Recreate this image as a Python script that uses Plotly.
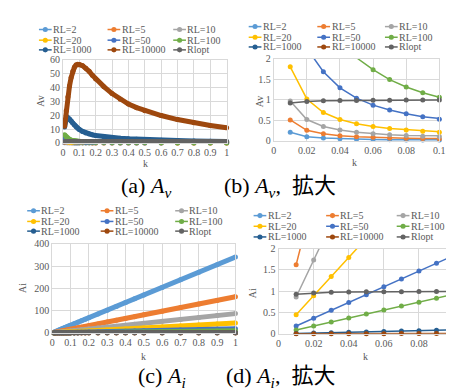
import plotly.graph_objects as go

W, H = 454, 391
SERIF = "'Liberation Serif', 'Times New Roman', serif"
CJK = "'Liberation Serif', 'Times New Roman', 'Noto Sans CJK JP', serif"
GREY_TXT = "#595959"

# ---------------- data ----------------
k = [0.01, 0.02, 0.03, 0.04, 0.05, 0.06, 0.07, 0.08, 0.09, 0.10,
     0.12, 0.14, 0.16, 0.18, 0.20, 0.25, 0.30, 0.35, 0.40, 0.45,
     0.50, 0.60, 0.70, 0.80, 0.90, 1.00]

names = ["RL=2", "RL=5", "RL=10", "RL=20", "RL=50", "RL=100",
         "RL=1000", "RL=10000", "Rlopt"]
colors = ["#5B9BD5", "#ED7D31", "#A5A5A5", "#FFC000", "#4472C4",
          "#70AD47", "#255E91", "#9E480E", "#636363"]

av_rl2 = [0.21, 0.105, 0.07, 0.053, 0.042, 0.035, 0.030, 0.026, 0.023, 0.021,
          0.0175, 0.015, 0.013, 0.0117, 0.0105, 0.0085, 0.0071, 0.0061, 0.0054, 0.0048,
          0.0044, 0.0037, 0.0032, 0.0028, 0.0025, 0.0023]
av_rl5 = [0.51, 0.26, 0.175, 0.13, 0.105, 0.088, 0.075, 0.066, 0.058, 0.053,
          0.044, 0.038, 0.033, 0.029, 0.026, 0.021, 0.018, 0.015, 0.013, 0.012,
          0.011, 0.0092, 0.0079, 0.0069, 0.0062, 0.0056]
av_rl10 = [0.97, 0.52, 0.35, 0.265, 0.21, 0.176, 0.151, 0.132, 0.117, 0.106,
           0.088, 0.076, 0.066, 0.059, 0.053, 0.042, 0.035, 0.030, 0.027, 0.024,
           0.022, 0.018, 0.016, 0.014, 0.012, 0.011]
av_rl20 = [1.80, 1.02, 0.69, 0.52, 0.42, 0.35, 0.30, 0.265, 0.235, 0.21,
           0.176, 0.151, 0.132, 0.117, 0.106, 0.085, 0.071, 0.061, 0.054, 0.048,
           0.044, 0.037, 0.032, 0.028, 0.025, 0.023]
av_rl50 = [3.8, 2.25, 1.68, 1.29, 1.04, 0.87, 0.75, 0.66, 0.59, 0.53,
           0.44, 0.38, 0.33, 0.295, 0.265, 0.215, 0.18, 0.155, 0.137, 0.123,
           0.112, 0.095, 0.083, 0.074, 0.066, 0.06]
av_rl100 = [5.8, 4.4, 3.2, 2.5, 2.02, 1.73, 1.49, 1.31, 1.17, 1.06,
            0.88, 0.76, 0.67, 0.59, 0.54, 0.43, 0.36, 0.31, 0.28, 0.25,
            0.23, 0.19, 0.17, 0.15, 0.13, 0.12]
av_rl1000 = [11.5, 17.2, 18.2, 17.3, 15.8, 14.3, 12.9, 11.6, 10.6, 9.7,
             8.3, 7.2, 6.4, 5.8, 5.3, 4.4, 3.8, 3.3, 2.95, 2.65,
             2.4, 2.0, 1.7, 1.46, 1.27, 1.1]
av_rl10000 = [12.0, 23.2, 33.0, 41.0, 47.0, 51.5, 54.5, 56.0, 56.6, 56.4,
              55.6, 53.8, 51.5, 48.7, 46.0, 40.5, 35.5, 31.5, 28.0, 25.4,
              23.2, 19.7, 16.8, 14.5, 12.6, 10.9]
av_rlopt = [0.92, 0.96, 0.975, 0.98, 0.985, 0.99, 0.99, 0.993, 0.995, 0.996,
            0.997, 0.998, 0.998, 0.999, 0.999, 1.0, 1.0, 1.0, 1.0, 1.0,
            1.0, 1.0, 1.0, 1.0, 1.0, 1.0]

ai_rl2 = [3.4, 6.8, 10.2, 13.6, 17.0, 20.4, 23.8, 27.2, 30.6, 34.0,
          40.8, 47.6, 54.4, 61.2, 68.0, 85.0, 102.0, 119.0, 136.0, 153.0,
          170.0, 204.0, 238.0, 272.0, 306.0, 340.0]
ai_rl5 = [1.62, 3.24, 4.86, 6.48, 8.1, 9.72, 11.34, 12.96, 14.58, 16.2,
          19.44, 22.68, 25.92, 29.16, 32.4, 40.5, 48.6, 56.7, 64.8, 72.9,
          81.0, 97.2, 113.4, 129.6, 145.8, 162.0]
ai_rl10 = [0.865, 1.73, 2.6, 3.46, 4.33, 5.19, 6.06, 6.92, 7.79, 8.65,
           10.38, 12.11, 13.84, 15.57, 17.3, 21.6, 25.95, 30.3, 34.6, 38.9,
           43.25, 51.9, 60.55, 69.2, 77.85, 86.5]
ai_rl20 = [0.448, 0.896, 1.344, 1.792, 2.24, 2.69, 3.14, 3.58, 4.03, 4.48,
           5.38, 6.27, 7.17, 8.06, 8.96, 11.2, 13.44, 15.68, 17.92, 20.16,
           22.4, 26.88, 31.36, 35.84, 40.32, 44.8]
ai_rl50 = [0.184, 0.368, 0.552, 0.736, 0.92, 1.104, 1.288, 1.472, 1.656, 1.84,
           2.208, 2.576, 2.944, 3.312, 3.68, 4.6, 5.52, 6.44, 7.36, 8.28,
           9.2, 11.04, 12.88, 14.72, 16.56, 18.4]
ai_rl100 = [0.093, 0.186, 0.279, 0.372, 0.465, 0.558, 0.651, 0.744, 0.837, 0.93,
            1.116, 1.302, 1.488, 1.674, 1.86, 2.325, 2.79, 3.255, 3.72, 4.185,
            4.65, 5.58, 6.51, 7.44, 8.37, 9.3]
ai_rl1000 = [0.0093, 0.0186, 0.0279, 0.0372, 0.0465, 0.0558, 0.0651, 0.0744, 0.0837, 0.093,
             0.1116, 0.1302, 0.1488, 0.1674, 0.186, 0.2325, 0.279, 0.3255, 0.372, 0.4185,
             0.465, 0.558, 0.651, 0.744, 0.837, 0.93]
ai_rl10000 = [0.00093, 0.00186, 0.00279, 0.00372, 0.00465, 0.00558, 0.00651, 0.00744, 0.00837, 0.0093,
              0.01116, 0.01302, 0.01488, 0.01674, 0.0186, 0.02325, 0.0279, 0.03255, 0.0372, 0.04185,
              0.0465, 0.0558, 0.0651, 0.0744, 0.0837, 0.093]
ai_rlopt = [0.93, 0.96, 0.975, 0.98, 0.985, 0.99, 0.99, 0.993, 0.995, 0.996,
            0.997, 0.998, 0.998, 0.999, 0.999, 1.0, 1.0, 1.0, 1.0, 1.0,
            1.0, 1.0, 1.0, 1.0, 1.0, 1.0]

av_series = [av_rl2, av_rl5, av_rl10, av_rl20, av_rl50, av_rl100,
             av_rl1000, av_rl10000, av_rlopt]
ai_series = [ai_rl2, ai_rl5, ai_rl10, ai_rl20, ai_rl50, ai_rl100,
             ai_rl1000, ai_rl10000, ai_rlopt]


# ---------------- helpers (pixel -> paper) ----------------
def px(xp):
    return xp / W


def py(yp):
    return 1 - yp / H


fig = go.Figure()

panels = [
    dict(xa="x", ya="y", data=av_series, full=True),
    dict(xa="x2", ya="y2", data=av_series, full=False),
    dict(xa="x3", ya="y3", data=ai_series, full=True),
    dict(xa="x4", ya="y4", data=ai_series, full=False),
]

for p in panels:
    for name, color, ys in zip(names, colors, p["data"]):
        if p["full"]:
            fig.add_trace(go.Scatter(
                x=k, y=ys, name=name, mode="lines+markers",
                xaxis=p["xa"], yaxis=p["ya"], showlegend=False,
                line=dict(color=color, width=5),
                marker=dict(color=color, size=5),
                cliponaxis=False, hoverinfo="skip"))
        else:
            fig.add_trace(go.Scatter(
                x=k, y=ys, name=name, mode="lines",
                xaxis=p["xa"], yaxis=p["ya"], showlegend=False,
                line=dict(color=color, width=1.5),
                cliponaxis=True, hoverinfo="skip"))
            fig.add_trace(go.Scatter(
                x=k, y=ys, name=name, mode="markers",
                xaxis=p["xa"], yaxis=p["ya"], showlegend=False,
                marker=dict(color=color, size=5),
                cliponaxis=False, hoverinfo="skip"))

axis_common = dict(
    showgrid=True, gridcolor="#D9D9D9", gridwidth=1, zeroline=False,
    showline=True, linecolor="#D9D9D9", linewidth=1, mirror=True,
    ticks="", tickfont=dict(family=SERIF, size=10, color=GREY_TXT),
    fixedrange=True,
)

fig.update_layout(
    width=W, height=H,
    margin=dict(l=0, r=0, t=0, b=0),
    paper_bgcolor="white", plot_bgcolor="white",
    showlegend=False,
    font=dict(family=SERIF, size=10, color=GREY_TXT),
    xaxis=dict(domain=[px(53), px(220)], range=[0, 1], dtick=0.1, tick0=0,
               anchor="y", **axis_common),
    yaxis=dict(domain=[py(133), py(47)], range=[0, 60], dtick=10, tick0=0,
               anchor="x", **axis_common),
    xaxis2=dict(domain=[px(268), px(437)], range=[0, 0.1], dtick=0.02, tick0=0,
                anchor="y2", **axis_common),
    yaxis2=dict(domain=[py(131), py(46)], range=[0, 2], dtick=0.5, tick0=0,
                anchor="x2", **axis_common),
    xaxis3=dict(domain=[px(42), px(229)], range=[0, 1], dtick=0.1, tick0=0,
                anchor="y3", **axis_common),
    yaxis3=dict(domain=[py(329), py(237)], range=[0, 400], dtick=100, tick0=0,
                anchor="x3", **axis_common),
    xaxis4=dict(domain=[px(273), px(452)], range=[0, 0.1], dtick=0.02, tick0=0,
                anchor="y4", **axis_common),
    yaxis4=dict(domain=[py(330), py(242)], range=[0, 2], dtick=0.5, tick0=0,
                anchor="x4", **axis_common),
)

annotations = []
shapes = []

# axis titles
axis_titles = [
    ("Av", 30, 90, -90), ("k", 137, 154, 0),
    ("Av", 253, 90, -90), ("k", 350, 153, 0),
    ("Ai", 12, 283, -90), ("k", 135, 353, 0),
    ("Ai", 246, 288, -90), ("k", 362, 353, 0),
]
for txt, xx, yy, ang in axis_titles:
    annotations.append(dict(
        text=txt, x=px(xx), y=py(yy), xref="paper", yref="paper",
        xanchor="center", yanchor="middle", showarrow=False, textangle=ang,
        borderpad=0, font=dict(family=SERIF, size=10, color=GREY_TXT)))

# legends (3 x 3 grid per panel)
legend_specs = [
    dict(mx=[35, 105, 172], ry=[16, 27, 37]),
    dict(mx=[249, 319, 388], ry=[13, 24, 34]),
    dict(mx=[23, 98, 174], ry=[203, 214, 224]),
    dict(mx=[254, 328, 400], ry=[208, 219, 230]),
]
for spec in legend_specs:
    for i, (name, color) in enumerate(zip(names, colors)):
        r, c = divmod(i, 3)
        mx, yy = spec["mx"][c], spec["ry"][r]
        shapes.append(dict(type="line", xref="paper", yref="paper",
                           x0=px(mx - 6.5), x1=px(mx + 6.5), y0=py(yy), y1=py(yy),
                           line=dict(color=color, width=1.5)))
        shapes.append(dict(type="circle", xref="paper", yref="paper",
                           x0=px(mx - 2.6), x1=px(mx + 2.6),
                           y0=py(yy + 2.6), y1=py(yy - 2.6),
                           fillcolor=color, line=dict(width=0)))
        annotations.append(dict(
            text=name, x=px(mx + 7), y=py(yy), xref="paper", yref="paper",
            xanchor="left", yanchor="middle", showarrow=False, borderpad=0,
            font=dict(family=SERIF, size=10, color=GREY_TXT)))

# captions
captions = [
    ("(a) <i>A</i><sub><i>v</i></sub>", 110, 178),
    ("(b) <i>A</i><sub><i>v</i></sub>,  拡大", 215, 178),
    ("(c) <i>A</i><sub><i>i</i></sub>", 128, 375),
    ("(d) <i>A</i><sub><i>i</i></sub>,  拡大", 217, 375),
]
for txt, xx, yy in captions:
    annotations.append(dict(
        text=txt, x=px(xx), y=py(yy), xref="paper", yref="paper",
        xanchor="left", yanchor="middle", showarrow=False,
        font=dict(family=CJK, size=22, color="black")))

fig.update_layout(annotations=annotations, shapes=shapes)

fig.write_html("out.html")
